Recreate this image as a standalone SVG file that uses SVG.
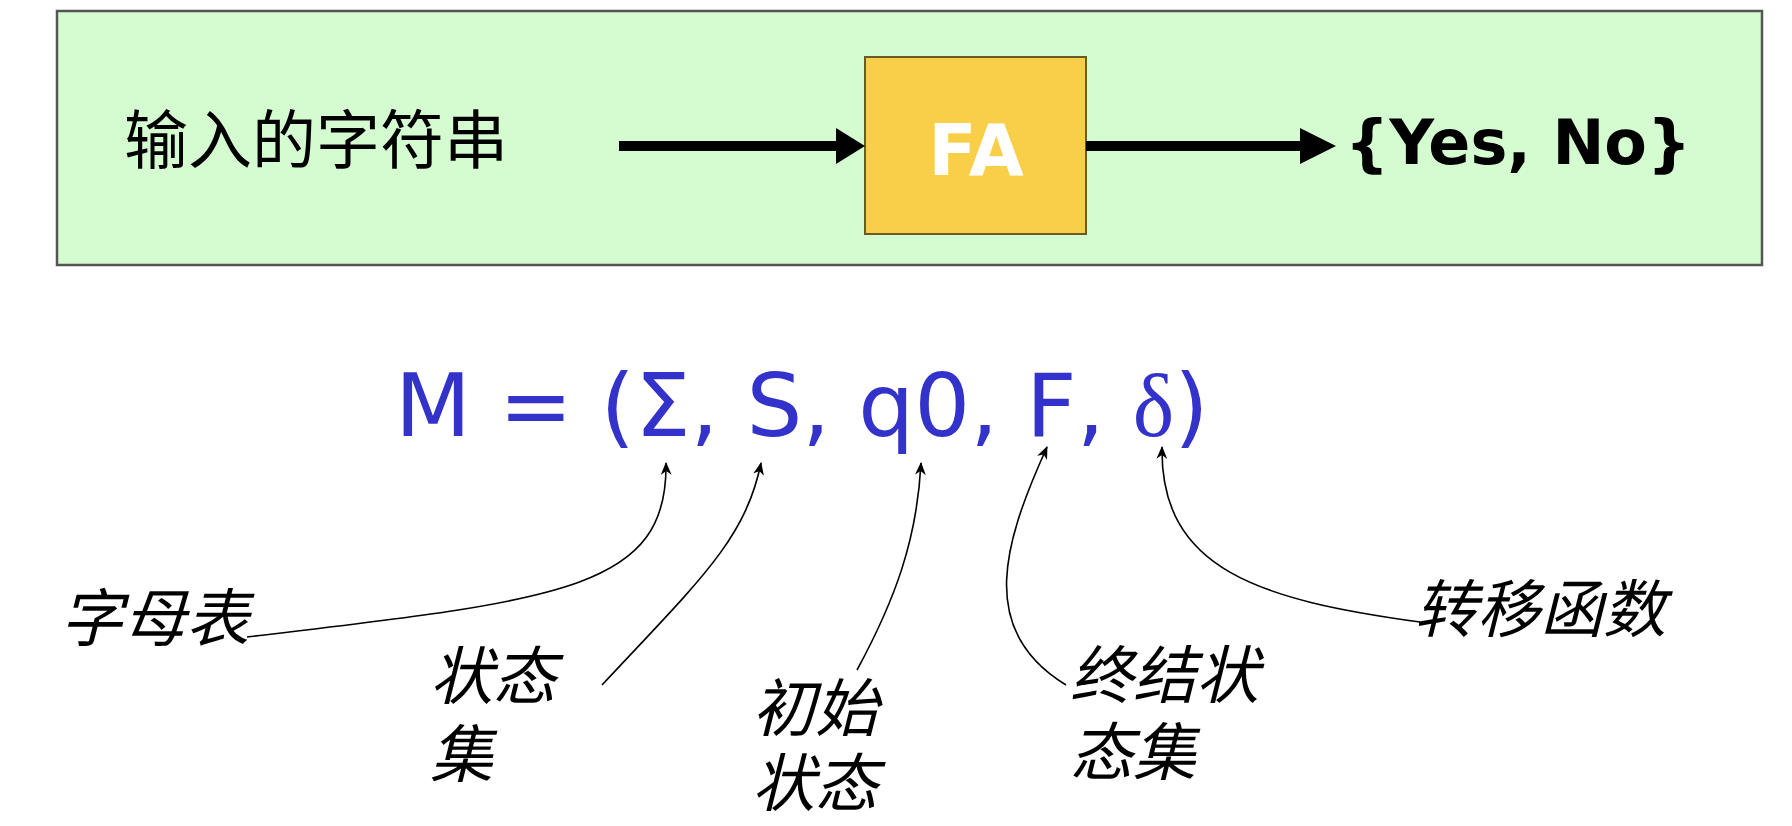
<svg xmlns="http://www.w3.org/2000/svg" width="1792" height="826" viewBox="0 0 1792 826">
<style>
.cjk{font-family:"Noto Sans CJK SC","Noto Sans",sans-serif;fill:#000}
.lbl{font-family:"Noto Sans CJK SC","Noto Sans",sans-serif;font-style:italic;font-size:63px;fill:#000}
.bold{font-family:"DejaVu Sans",sans-serif;font-weight:bold}
.thin{fill:none;stroke:#000;stroke-width:1.6}
.thick{stroke:#000;stroke-width:10;fill:none}
</style>
<defs>
<marker id="tip" viewBox="0 0 12 10" refX="11" refY="5" markerWidth="13" markerHeight="11" markerUnits="userSpaceOnUse" orient="auto">
<path d="M0,0 L12,5 L0,10 L3.5,5 z" fill="#000"/>
</marker>
</defs>
<rect width="1792" height="826" fill="#fff"/>
<g id="panel">
<rect x="57" y="11" width="1705" height="254" fill="#d5fcd0" stroke="#555" stroke-width="2.5"/>
</g>
<g id="input">
<text class="cjk" x="124" y="163" font-size="64">输入的字符串</text>
</g>
<g id="fa">
<rect x="865" y="57" width="221" height="177" fill="#f9cf4a" stroke="#6a5a24" stroke-width="2"/>
<text class="bold" x="976" y="175" font-size="71" fill="#fff" text-anchor="middle">FA</text>
</g>
<g id="output">
<text class="bold" x="1345" y="164" font-size="62" fill="#000">{Yes, No}</text>
</g>
<g id="formula">
<text x="395" y="436" font-family="DejaVu Sans, sans-serif" font-size="88" fill="#3333cc">M = (Σ, S, q0, F, <tspan font-family="Liberation Serif, serif">δ</tspan>)</text>
</g>
<g id="label-alphabet"><text class="lbl" x="60" y="641">字母表</text></g>
<g id="label-states"><text class="lbl" x="430" y="699">状态</text><text class="lbl" x="430" y="777">集</text></g>
<g id="label-start"><text class="lbl" x="752" y="731">初始</text><text class="lbl" x="752" y="806">状态</text></g>
<g id="label-final"><text class="lbl" x="1070" y="698">终结状</text><text class="lbl" x="1070" y="775">态集</text></g>
<g id="label-delta"><text class="lbl" x="1414" y="632">转移函数</text></g>
<g id="connectors">
<line class="thick" x1="619" y1="146" x2="840" y2="146"/>
<polygon points="836,128 865,146 836,164" fill="#000"/>
<line class="thick" x1="1086" y1="146" x2="1304" y2="146"/>
<polygon points="1300,128 1336,146 1300,164" fill="#000"/>
<path class="thin" marker-end="url(#tip)" d="M247,637 C560,600 668,590 666,463"/>
<path class="thin" marker-end="url(#tip)" d="M602,685 C700,580 745,540 761,463"/>
<path class="thin" marker-end="url(#tip)" d="M857,670 C895,600 917,540 921,463"/>
<path class="thin" marker-end="url(#tip)" d="M1066,685 C975,630 1005,540 1047,447"/>
<path class="thin" marker-end="url(#tip)" d="M1420,622 C1260,600 1160,570 1162,447"/>
</g>
</svg>
